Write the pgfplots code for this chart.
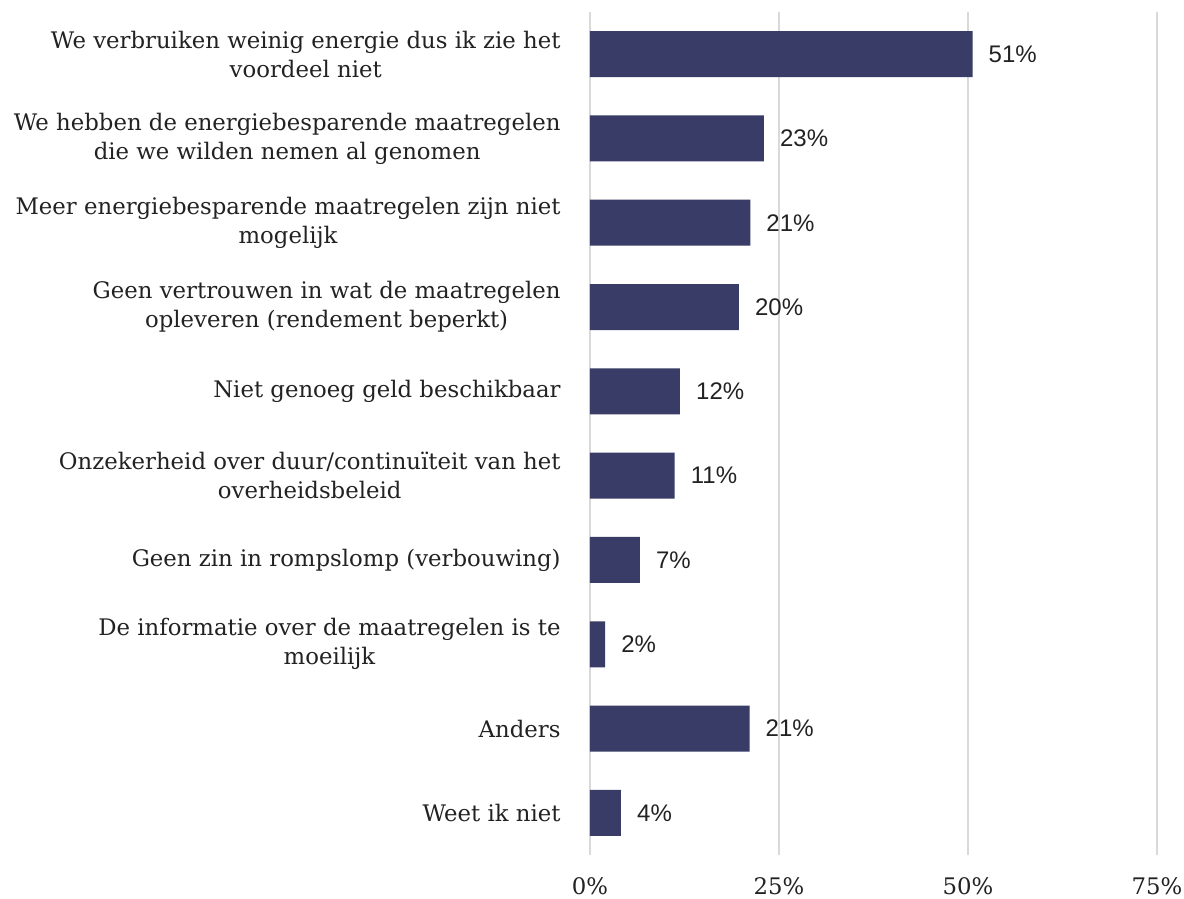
\documentclass[border=0pt]{standalone}
\usepackage{fontspec}
\setmainfont{DejaVu Serif}
\newfontfamily\barfont{Liberation Sans}
\usepackage{pgfplots}
\pgfplotsset{compat=1.18}
\usepackage{pgfplotstable}
\definecolor{barblue}{HTML}{383C66}
\definecolor{gridgray}{HTML}{D9D9D9}
\definecolor{txt}{HTML}{222222}

% idx = category (0 = top), val = bar length in %, pct = printed label
\pgfplotstableread{
idx val  pct
0   50.6 51
1   23.0 23
2   21.2 21
3   19.7 20
4   11.9 12
5   11.2 11
6   6.6  7
7   2.0  2
8   21.1 21
9   4.1  4
}\answers

\begin{document}
\begin{tikzpicture}
\path[use as bounding box] (0pt,0pt) rectangle (1184pt,899pt);
\begin{axis}[
    at={(590pt,44pt)}, anchor=south west,
    scale only axis,
    width=567pt, height=843pt,
    xbar, bar width=46pt,
    xmin=0, xmax=75,
    ymin=-0.5, ymax=9.5,
    y dir=reverse,
    xtick={0,25,50,75},
    xticklabels={0\%,25\%,50\%,75\%},
    ytick={0,...,9},
    yticklabels={
        {We verbruiken weinig energie dus ik zie het\\voordeel niet},
        {We hebben de energiebesparende maatregelen\\die we wilden nemen al genomen},
        {Meer energiebesparende maatregelen zijn niet\\mogelijk},
        {Geen vertrouwen in wat de maatregelen\\opleveren (rendement beperkt)},
        {Niet genoeg geld beschikbaar},
        {Onzekerheid over duur/continuïteit van het\\overheidsbeleid},
        {Geen zin in rompslomp (verbouwing)},
        {De informatie over de maatregelen is te\\moeilijk},
        {Anders},
        {Weet ik niet}},
    axis line style={draw=none},
    tick style={draw=none},
    xmajorgrids,
    grid style={gridgray, line width=1.5pt},
    tick label style={font=\fontsize{22.8}{29}\selectfont, text=txt},
    yticklabel style={align=center, inner sep=0pt, xshift=-25pt},
    xticklabel style={inner sep=0pt, yshift=-22pt},
    nodes near coords={\pgfmathprintnumber[assume math mode=true]{\pgfplotspointmeta}\%},
    point meta=explicit,
    nodes near coords style={font=\barfont\fontsize{24}{28}\selectfont,
        text=txt, anchor=west, inner sep=0pt, xshift=16pt},
]
\addplot[fill=barblue, draw=none] table[x=val, y=idx, meta=pct] {\answers};
\end{axis}
\end{tikzpicture}
\end{document}
